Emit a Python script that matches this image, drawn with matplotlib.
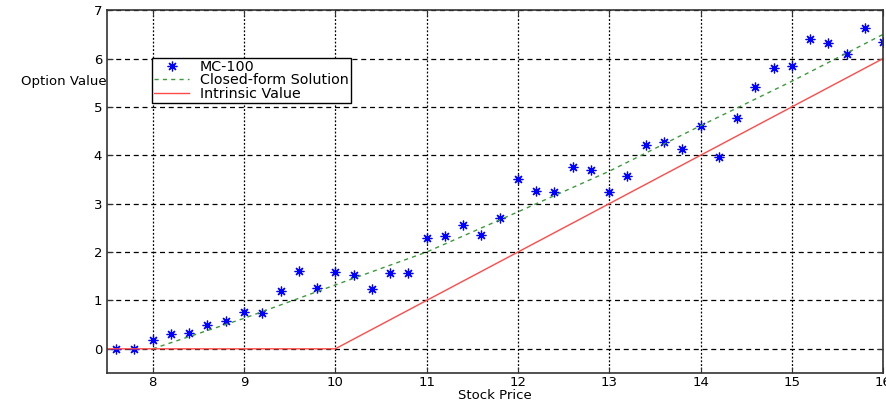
import matplotlib
matplotlib.use('Agg')
import matplotlib.pyplot as plt

plt.rcParams['font.family'] = ['DejaVu Sans']

# MC-100 estimates
mc_x = [7.6, 7.8, 8.0, 8.2, 8.4, 8.6, 8.8, 9.0, 9.2, 9.4, 9.6, 9.8,
        10.0, 10.2, 10.4, 10.6, 10.8, 11.0, 11.2, 11.4, 11.6, 11.8,
        12.0, 12.2, 12.4, 12.6, 12.8, 13.0, 13.2, 13.4, 13.6, 13.8,
        14.0, 14.2, 14.4, 14.6, 14.8, 15.0, 15.2, 15.4, 15.6, 15.8, 16.0]
mc_y = [0.0, 0.0, 0.18, 0.31, 0.32, 0.50, 0.58, 0.77, 0.75, 1.19, 1.60, 1.25,
        1.59, 1.52, 1.23, 1.56, 1.56, 2.28, 2.34, 2.55, 2.35, 2.71,
        3.51, 3.26, 3.24, 3.76, 3.70, 3.24, 3.58, 4.22, 4.28, 4.14,
        4.61, 3.97, 4.78, 5.42, 5.80, 5.85, 6.40, 6.33, 6.09, 6.63, 6.34]

# closed-form solution
cf_x = [8, 9, 10, 11, 12, 13, 14, 15, 16]
cf_y = [0.0, 0.63, 1.32, 2.0, 2.83, 3.67, 4.61, 5.53, 6.5]

# intrinsic value
iv_x = [7.5, 10, 16]
iv_y = [0, 0, 6]

fig = plt.figure(figsize=(8.86, 4.05), dpi=100)
ax = fig.add_axes([0.1208, 0.079, 0.876, 0.896])

ax.plot(mc_x, mc_y, linestyle='none', marker=(8, 2, 0), markersize=7,
        markeredgewidth=0.9, color='#0000ff', label='MC-100')
ax.plot(cf_x, cf_y, linestyle=(0, (3, 3)), color='#3c9a3c', linewidth=1,
        label='Closed-form Solution')
ax.plot(iv_x, iv_y, color='#ff4a4a', linewidth=1, label='Intrinsic Value')

ax.set_xlim(7.5, 16)
ax.set_ylim(-0.5, 7)
ax.set_xticks([8, 9, 10, 11, 12, 13, 14, 15, 16])
ax.set_yticks([0, 1, 2, 3, 4, 5, 6, 7])

ax.xaxis.grid(True, linestyle=(0, (1.5, 1.5)), color='black', linewidth=0.9)
ax.yaxis.grid(True, linestyle=(0, (4, 3)), color='black', linewidth=0.9)
ax.set_axisbelow(True)

ax.tick_params(direction='in', top=True, right=True, labelsize=9.5,
               length=4, color='#333333')
ax.tick_params(axis='x', pad=2)
for s in ax.spines.values():
    s.set_color('#333333')
    s.set_linewidth(1.2)

ax.set_xlabel('Stock Price', fontsize=9.5, labelpad=0)
ax.set_ylabel('Option Value', fontsize=9.5, rotation=0, ha='right', va='center')
ax.yaxis.set_label_coords(-0.001, 0.804)

leg = ax.legend(loc='upper left', bbox_to_anchor=(0.058, 0.868), fontsize=10.3,
                frameon=True, fancybox=False, handlelength=2.45,
                handletextpad=0.75, borderpad=0.15, labelspacing=-0.05,
                borderaxespad=0)
leg.get_frame().set_edgecolor('black')
leg.get_frame().set_linewidth(1.0)
leg.get_frame().set_alpha(1)

fig.savefig('out.png', dpi=100)
